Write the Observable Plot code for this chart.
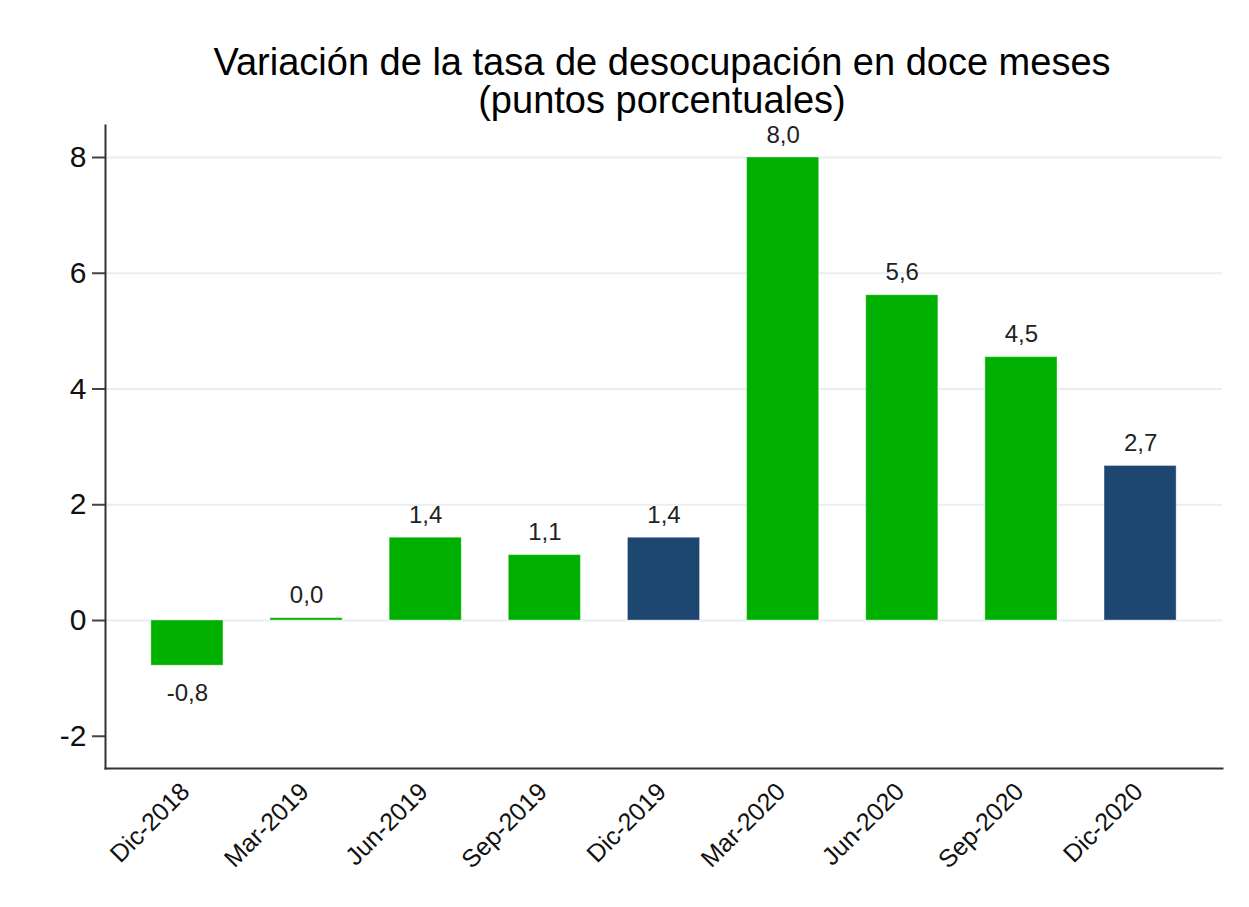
<!DOCTYPE html>
<html><head><meta charset="utf-8">
<script src="https://cdn.jsdelivr.net/npm/d3@7"></script>
<script src="https://cdn.jsdelivr.net/npm/@observablehq/plot@0.6"></script>
<style>
body{margin:0;background:#fff;font-family:"Liberation Sans",Arial,sans-serif;}
#title{width:1249px;box-sizing:border-box;padding-top:43px;padding-left:75px;text-align:center;font-size:38px;line-height:38px;color:#000;height:119px;}
</style></head><body>
<div id="title">Variación de la tasa de desocupación en doce meses<br>(puntos porcentuales)</div>
<div id="chart"></div>
<script>
const periods = ["Dic-2018","Mar-2019","Jun-2019","Sep-2019","Dic-2019","Mar-2020","Jun-2020","Sep-2020","Dic-2020"];
const values = [-0.78, 0.04, 1.43, 1.13, 1.43, 8.0, 5.62, 4.55, 2.67];
const labels = ["-0,8","0,0","1,4","1,1","1,4","8,0","5,6","4,5","2,7"];
const december = [false,false,false,false,true,false,false,false,true];
const yTicks = [-2,0,2,4,6,8];
const gridTicks = [0,2,4,6,8];
const data = periods.map((p,i)=>({period:p,value:values[i],label:labels[i],dec:december[i]}));
const font = '"Liberation Sans",Arial,sans-serif';
const chart = Plot.plot({
  width:1249,height:788,marginLeft:105,marginRight:27,marginTop:6,marginBottom:139,
  style:{fontFamily:font,background:"#fff",color:"#111"},
  x:{domain:periods,paddingInner:0.395,paddingOuter:0.385,round:false,label:null},
  y:{domain:[-2.557,8.553],label:null},
  marks:[
    Plot.ruleY(gridTicks,{stroke:"#e7eff1",strokeWidth:2}),
    Plot.barY(data,{x:"period",y:"value",fill:d=>d.dec?"#1d4770":"#00b000",stroke:"#ffffff",strokeOpacity:0.35,strokeWidth:1}),
    Plot.text(data.filter(d=>d.value>=0),{x:"period",y:"value",text:"label",lineAnchor:"bottom",dy:-15,fontSize:24,fill:"#222"}),
    Plot.text(data.filter(d=>d.value<0),{x:"period",y:"value",text:"label",lineAnchor:"top",dy:18,fontSize:24,fill:"#222"}),
    Plot.axisY(yTicks,{tickSize:13,tickPadding:6,fontSize:30,tickFormat:d=>String(d),stroke:"#444",strokeWidth:2,label:null,fill:"#111"}),
    Plot.axisX({tickSize:0,tickRotate:-45,tickPadding:13,dy:6,dx:-2,fontSize:25,label:null,fill:"#111"}),
    Plot.frame({anchor:"left",stroke:"#333",strokeWidth:2}),
    Plot.frame({anchor:"bottom",stroke:"#333",strokeWidth:2})
  ]
});
document.getElementById("chart").appendChild(chart);
d3.select(chart).selectAll('g[aria-label="y-axis tick label"]').style("font-size","30px");
d3.select(chart).selectAll('g[aria-label="x-axis tick label"]').style("font-size","25px");
</script>
</body></html>
